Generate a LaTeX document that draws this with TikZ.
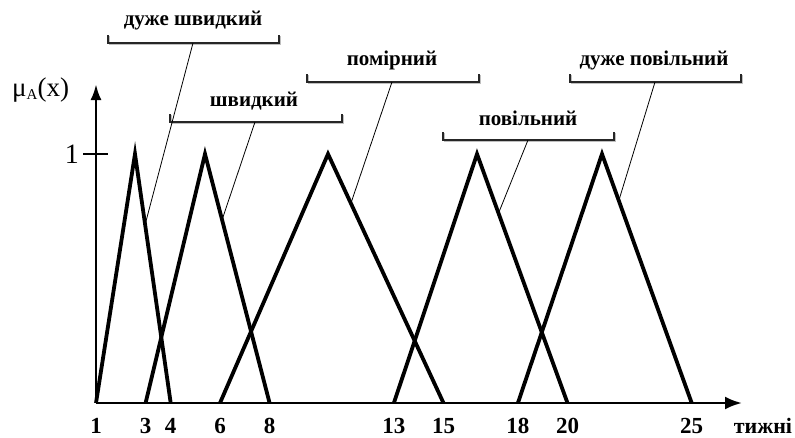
\documentclass[tikz,border=0pt]{standalone}
\usepackage{fontspec}
\setmainfont{Liberation Serif}
\usetikzlibrary{arrows.meta}
\begin{document}
\begin{tikzpicture}[x=1pt,y=-1pt,
  memb/.style={line width=3.8pt,line join=miter,line cap=butt},
  axisline/.style={line width=2.8pt},
  lbl/.style={font=\fontsize{21}{21}\selectfont\bfseries,anchor=base,inner sep=0pt},
  ticklbl/.style={font=\fontsize{23}{23}\selectfont\bfseries,anchor=base,inner sep=0pt},
  brk/.style={line width=1.1pt,black!85},
  brkshadow/.style={line width=1.4pt,black!25},
  conn/.style={line width=0.8pt}]
\useasboundingbox (0,0) rectangle (795,437);
% axes
\coordinate (O) at (96,403);
\coordinate (ytop) at (96,84);
\coordinate (xend) at (742,403);
\draw[axisline,-{Latex[length=16pt,width=11pt]}] (O) -- (ytop);
\draw[axisline,-{Latex[length=17pt,width=13pt]}] (O) -- (xend);
\coordinate (t1a) at (83,154);
\coordinate (t1b) at (108,154);
\draw[axisline] (t1a) -- (t1b);
\node[font=\fontsize{28}{28}\selectfont,anchor=base east,inner sep=0pt] (one) at (79,163) {1};
\node[font=\fontsize{27}{27}\selectfont,anchor=base west,inner sep=0pt] (mu) at (12,96) {μ\raisebox{-0.12em}{\fontsize{15}{15}\selectfont A}(x)};
% membership triangles
\coordinate (a1) at (96,403); \coordinate (p1) at (135,154); \coordinate (b1) at (170.7,403);
\coordinate (a2) at (145.6,403); \coordinate (p2) at (205,154); \coordinate (b2) at (269.6,403);
\coordinate (a3) at (220,403); \coordinate (p3) at (328,154); \coordinate (b3) at (443.5,403);
\coordinate (a4) at (393.9,403); \coordinate (p4) at (477,154); \coordinate (b4) at (567.5,403);
\coordinate (a5) at (517.9,403); \coordinate (p5) at (602,154); \coordinate (b5) at (691.7,403);
\foreach \i in {1,...,5} {\draw[memb] (a\i) -- (p\i) -- (b\i);}
% tick labels
\foreach \v/\x in {1/96,3/145.6,4/170.7,6/220,8/269.6,13/393.9,15/443.5,18/517.9,20/567.5,25/691.7}
  {\node[ticklbl] (n\v) at (\x,433) {\v};}
\node[lbl,font=\fontsize{22}{22}\selectfont\bfseries] (weeks) at (763,433) {тижні};
% labels with brackets
\node[lbl] (L1) at (193,25) {дуже швидкий};
\node[lbl] (L2) at (254,106) {швидкий};
\node[lbl] (L3) at (392,65) {помірний};
\node[lbl] (L4) at (528,125) {повільний};
\node[lbl] (L5) at (654,65) {дуже повільний};
\foreach \k/\xa/\xb/\y in {1/108/279/43, 2/170/342/122, 3/307/479/82, 4/443/614/140, 5/570/741/82}{
  \draw[brkshadow] (\xa+1.5,\y-7) -- (\xa+1.5,\y+1.5) -- (\xb+1.5,\y+1.5) -- (\xb+1.5,\y-7);
  \draw[brk] (\xa,\y-8) -- (\xa,\y) -- (\xb,\y) -- (\xb,\y-8);
}
% connectors
\coordinate (c1s) at (193,43);  \coordinate (c1e) at (145,225);
\coordinate (c2s) at (255,122); \coordinate (c2e) at (222,220);
\coordinate (c3s) at (392,82);  \coordinate (c3e) at (351,203);
\coordinate (c4s) at (528,140); \coordinate (c4e) at (499,212);
\coordinate (c5s) at (655,82);  \coordinate (c5e) at (619,200);
\foreach \i in {1,...,5} {\draw[conn] (c\i s) -- (c\i e);}
\end{tikzpicture}
\end{document}
